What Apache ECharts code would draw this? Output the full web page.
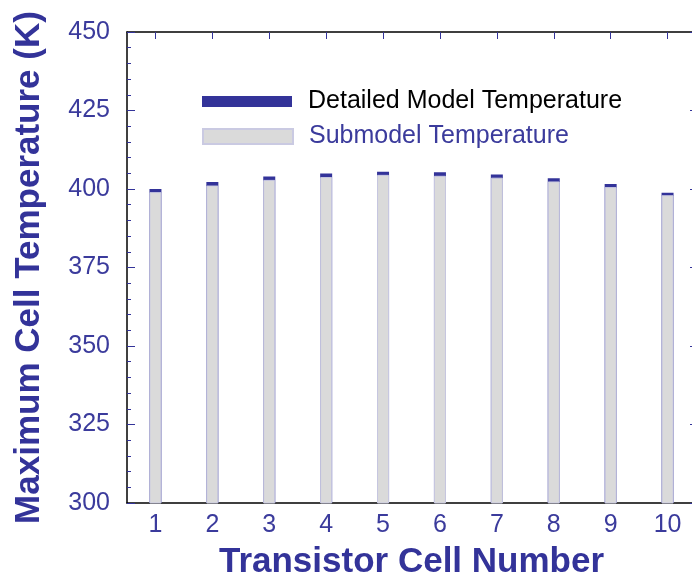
<!DOCTYPE html>
<html>
<head>
<meta charset="utf-8">
<script src="https://cdn.jsdelivr.net/npm/echarts@6/dist/echarts.min.js"></script>
<style>
  html, body { margin: 0; padding: 0; background: #fff; overflow: hidden; }
  #chart { width: 700px; height: 574px; }
</style>
</head>
<body>
<div id="chart"></div>
<script>
// Maximum temperature per transistor cell: full detailed model vs. submodel
const cells = ['1', '2', '3', '4', '5', '6', '7', '8', '9', '10'];
const detailedTemp = [400.0, 402.2, 404.0, 404.9, 405.5, 405.3, 404.6, 403.4, 401.6, 398.8];
const submodelTemp = [399.0, 401.1, 402.9, 403.8, 404.5, 404.2, 403.6, 402.4, 400.6, 398.0];
const yTicks = [300, 325, 350, 375, 400, 425, 450];

const FONT = '"Liberation Sans", Arial, Helvetica, sans-serif';
const NAVY = '#333399';
const LABEL = '#3b3b9c';

const chart = echarts.init(document.getElementById('chart'), null, { renderer: 'canvas' });

chart.setOption({
  backgroundColor: '#ffffff',
  animation: false,
  grid: { left: 127, right: 4, top: 32, bottom: 71, containLabel: false, outerBoundsMode: 'none' },
  legend: [
    {
      data: [{ name: 'Detailed Model Temperature', textStyle: { color: '#000000' } }],
      left: 202, top: 89, padding: 0,
      itemWidth: 90, itemHeight: 11,
      icon: 'rect',
      selectedMode: false,
      textStyle: { fontFamily: FONT, fontSize: 25, padding: [0, 0, 0, 11] }
    },
    {
      data: [{ name: 'Submodel Temperature', textStyle: { color: LABEL } }],
      left: 202, top: 124, padding: 0,
      itemWidth: 90, itemHeight: 15,
      icon: 'rect',
      selectedMode: false,
      textStyle: { fontFamily: FONT, fontSize: 25, padding: [0, 0, 0, 11] }
    }
  ],
  xAxis: [
    {
      type: 'category',
      data: cells,
      position: 'bottom',
      axisLine: { show: true, lineStyle: { color: '#000000', width: 1.5 } },
      axisTick: { show: false },
      axisLabel: { color: LABEL, fontFamily: FONT, fontSize: 25, margin: 10 },
      name: 'Transistor Cell Number',
      nameLocation: 'middle',
      nameGap: 42,
      nameTextStyle: { color: NAVY, fontFamily: FONT, fontSize: 35, fontWeight: 'bold' }
    },
    {
      type: 'category',
      data: cells,
      position: 'top',
      axisLine: { show: true, lineStyle: { color: '#000000', width: 1.5 } },
      axisTick: { show: true, inside: true, alignWithLabel: true, length: 7, lineStyle: { color: NAVY, width: 1 } },
      axisLabel: { show: false }
    }
  ],
  yAxis: [
    {
      type: 'value',
      min: yTicks[0],
      max: yTicks[yTicks.length - 1],
      interval: 25,
      position: 'left',
      axisLine: { show: true, lineStyle: { color: '#000000', width: 1.5 } },
      axisTick: { show: true, inside: true, length: 8, lineStyle: { color: NAVY, width: 1 } },
      minorTick: { show: true, splitNumber: 5, length: 4, lineStyle: { color: NAVY, width: 1 } },
      splitLine: { show: false },
      axisLabel: { color: LABEL, fontFamily: FONT, fontSize: 25, margin: 17 },
      name: 'Maximum Cell Temperature (K)',
      nameLocation: 'middle',
      nameRotate: 90,
      nameGap: 80,
      nameTextStyle: { color: NAVY, fontFamily: FONT, fontSize: 35, fontWeight: 'bold' }
    },
    {
      type: 'value',
      min: yTicks[0],
      max: yTicks[yTicks.length - 1],
      interval: 25,
      position: 'right',
      axisLine: { show: false },
      axisTick: { show: true, inside: true, length: 6, lineStyle: { color: NAVY, width: 1 } },
      splitLine: { show: false },
      axisLabel: { show: false }
    }
  ],
  series: [
    {
      name: 'Detailed Model Temperature',
      type: 'bar',
      data: detailedTemp,
      barWidth: 12,
      itemStyle: { color: NAVY },
      z: 2
    },
    {
      name: 'Submodel Temperature',
      type: 'bar',
      data: submodelTemp,
      barWidth: 12,
      barGap: '-100%',
      itemStyle: { color: '#dadada', borderColor: '#cacae2', borderWidth: 1 },
      z: 3
    }
  ]
});
</script>
</body>
</html>
